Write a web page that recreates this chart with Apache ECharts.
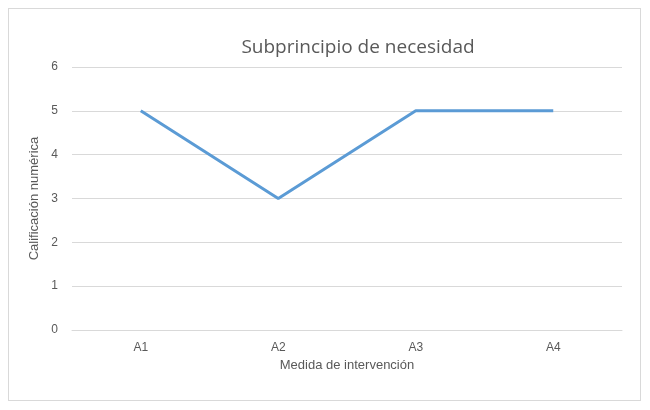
<!DOCTYPE html>
<html>
<head>
<meta charset="utf-8">
<script src="https://cdn.jsdelivr.net/npm/echarts@6/dist/echarts.min.js"></script>
<style>
body { margin: 0; background: #fff; }
#frame { position: absolute; left: 8px; top: 8px; width: 631px; height: 391px; border: 1px solid #d9d9d9; }
#draw { width: 650px; height: 410px; position: absolute; left: 0; top: 0; }
</style>
</head>
<body>
<div id="frame"></div>
<div id="draw"></div>
<script>
var categories = ['A1', 'A2', 'A3', 'A4'];
var values = [5, 3, 5, 5];
var yTicks = { min: 0, max: 6, interval: 1 };

var myChart = echarts.init(document.getElementById('draw'));
var option = {
	title: {
		text: 'Subprincipio de necesidad',
		left: 353, top: 33, textAlign: 'center',
		textStyle: { fontFamily: '"Open Sans", sans-serif', fontSize: 19, fontWeight: 'normal', color: '#595959' }
	},
	grid: { left: 72, right: 28, top: 67, bottom: 80 },
	xAxis: {
		type: 'category',
		data: categories,
		boundaryGap: true,
		name: 'Medida de intervención',
		nameLocation: 'middle',
		nameGap: 27,
		nameTextStyle: { color: '#595959', fontSize: 13 },
		axisLine: { lineStyle: { color: '#d9d9d9' } },
		axisTick: { show: false },
		axisLabel: { color: '#595959', fontSize: 12, margin: 12 }
	},
	yAxis: {
		type: 'value',
		min: yTicks.min, max: yTicks.max, interval: yTicks.interval,
		name: 'Calificación numérica',
		nameLocation: 'middle',
		nameGap: 28,
		nameTextStyle: { color: '#595959', fontSize: 13 },
		axisLine: { show: false },
		axisTick: { show: false },
		axisLabel: { color: '#595959', fontSize: 12, margin: 14 },
		splitLine: { lineStyle: { color: '#d9d9d9' } }
	},
	series: [{
		type: 'line',
		data: values,
		symbol: 'none',
		lineStyle: { color: '#5b9bd5', width: 3 },
		itemStyle: { color: '#5b9bd5' }
	}]
};
myChart.setOption(option);
</script>
</body>
</html>
